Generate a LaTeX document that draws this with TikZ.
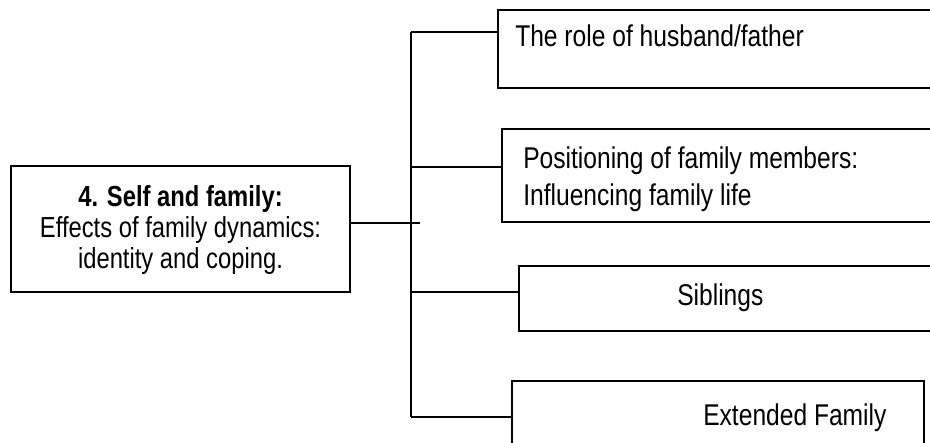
\documentclass[tikz,border=0pt]{standalone}
\usepackage{fontspec}
\setmainfont{Liberation Sans}[FakeStretch=0.82]
\usetikzlibrary{fit}
\tikzset{
  box/.style={draw, line width=1.4pt, inner sep=0pt},
  conn/.style={line width=1.1pt},
  rt/.style={font=\fontsize{22.5pt}{27pt}\selectfont, inner sep=0pt, anchor=base west},
  lt/.style={font=\fontsize{21.75pt}{26pt}\selectfont, inner sep=0pt, anchor=base},
}
\begin{document}
\begin{tikzpicture}[x=0.75pt, y=-0.75pt]
  \clip (0,0) rectangle (930,442);
  \fill[white] (0,0) rectangle (930,442);
  % boxes
  \node[box, fit={(11,166) (350,292)}] (L) {};
  \node[box, fit={(498,10) (945,88)}] (b1) {};
  \node[box, fit={(502,129) (945,222)}] (b2) {};
  \node[box, fit={(519,266) (945,331)}] (b3) {};
  \node[box, fit={(512,381) (924,446)}] (b4) {};
  % texts
  \node[lt] (l1) at (180.5,206) {\bfseries 4. Self and family:};
  \node[lt] (l2) at (180.5,237) {Effects of family dynamics:};
  \node[lt] (l3) at (180.5,268) {identity and coping.};
  \node[rt] (t1) at (515,47) {The role of husband/father};
  \node[rt] (t2a) at (523,168) {Positioning of family members:};
  \node[rt] (t2b) at (523,205) {Influencing family life};
  \node[rt] (t3) at (677,305) {Siblings};
  \node[rt] (t4) at (703,425) {Extended Family};
  % connectors
  \coordinate (j1) at (411,32);
  \coordinate (j2) at (411,167);
  \coordinate (j3) at (411,292);
  \coordinate (j4) at (411,417);
  \coordinate (m) at (420,223);
  \draw[conn] (j1) -- (j4);
  \draw[conn] (j1) -- (b1.west |- j1);
  \draw[conn] (j2) -- (b2.west |- j2);
  \draw[conn] (j3) -- (b3.west |- j3);
  \draw[conn] (j4) -- (b4.west |- j4);
  \draw[conn] (L.east |- m) -- (m);
\end{tikzpicture}
\end{document}
